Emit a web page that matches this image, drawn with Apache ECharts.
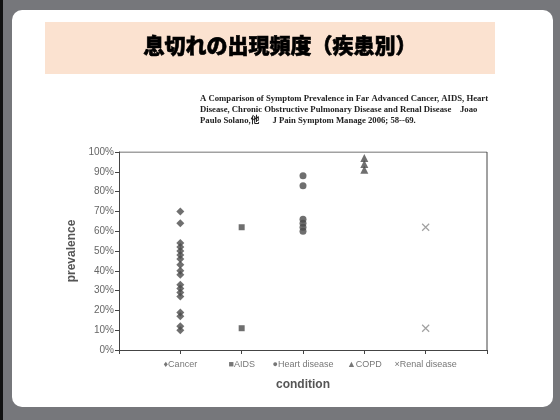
<!DOCTYPE html>
<html>
<head>
<meta charset="utf-8">
<script src="https://cdn.jsdelivr.net/npm/echarts@6/dist/echarts.min.js"></script>
<style>
  html, body { margin: 0; padding: 0; background: #76777b; }
  #chart { width: 560px; height: 420px; }
</style>
</head>
<body>
<div id="chart"></div>
<script>
// conditions on the x axis (positions 1..5)
const conditions = ['Cancer', 'AIDS', 'Heart disease', 'COPD', 'Renal disease']
const markerGlyphs = ['\u2666', '\u25A0', '\u25CF', '\u25B2', '\u00D7']
const yTicks = [0, 10, 20, 30, 40, 50, 60, 70, 80, 90, 100]

// prevalence (%)
const cancer = [70, 64, 54, 52, 50, 48, 46, 43, 40, 38, 33, 31, 29, 27, 19, 17, 12, 10]
const aids = [62, 11]
const heart = [88, 83, 66, 64, 62, 60]
const copd = [97, 94, 91]
const renal = [62, 11]

const title = '息切れの出現頻度（疾患別）'
const citation = [
  'A Comparison of Symptom Prevalence in Far Advanced Cancer, AIDS, Heart',
  'Disease, Chronic Obstructive Pulmonary Disease and Renal Disease    Joao',
  'Paulo Solano,他      J Pain Symptom Manage 2006; 58--69.'
]

const chart = echarts.init(document.getElementById('chart'))

const dark = '#4b4b4b'
const gray = '#8a8a8a'

function pts(idx, vals) {
  return vals.map((v) => [idx + 1, v])
}

const option = {
  animation: false,
  backgroundColor: '#76777b',
  graphic: [
    { type: 'rect', shape: { x: 0, y: 0, width: 3, height: 420 }, style: { fill: '#111' }, z: -10 },
    { type: 'rect', shape: { x: 12, y: 10, width: 541, height: 397, r: 10 }, style: { fill: '#fff' }, z: -10 },
    { type: 'rect', shape: { x: 45, y: 22, width: 450, height: 52 }, style: { fill: '#fbe2d0' }, z: -9 },
    {
      type: 'text', left: 'center', top: 34,
      style: { text: title, font: '900 21px "Noto Sans CJK JP"', fill: '#000', stroke: '#000', lineWidth: 0.6 }
    },
    {
      type: 'text', left: 200, top: 93,
      style: {
        text: citation.join('\n'),
        font: 'bold 8.7px "Liberation Serif", "Noto Sans CJK JP"',
        lineHeight: 11, fill: '#222'
      }
    }
  ],
  grid: { left: 119, right: 73, top: 152, bottom: 70 },
  xAxis: {
    type: 'value', min: 0, max: 6, interval: 1,
    name: 'condition', nameLocation: 'middle', nameGap: 29,
    nameTextStyle: { fontFamily: 'Liberation Sans', fontWeight: 'bold', fontSize: 12, color: '#555' },
    axisLine: { lineStyle: { color: '#444', width: 1 } },
    axisTick: { show: true, length: 4, inside: false, lineStyle: { color: '#444' } },
    axisLabel: {
      showMinLabel: true, showMaxLabel: true,
      margin: 10, fontSize: 9, color: '#777', fontFamily: 'Liberation Sans',
      formatter: (v) => (v >= 1 && v <= 5 ? markerGlyphs[v - 1] + conditions[v - 1] : '')
    },
    splitLine: { show: false }
  },
  yAxis: {
    type: 'value', min: 0, max: 100, interval: 10,
    name: 'prevalence', nameLocation: 'middle', nameGap: 33, nameRotate: 90,
    nameTextStyle: { fontFamily: 'Liberation Sans', fontWeight: 'bold', fontSize: 12, color: '#555' },
    axisLine: { show: true, lineStyle: { color: '#444' } },
    axisTick: { show: true, length: 4, lineStyle: { color: '#444' } },
    axisLabel: {
      margin: 5, fontSize: 10, color: '#666', fontFamily: 'Liberation Sans',
      formatter: (v) => (yTicks.includes(v) ? v + '%' : '')
    },
    splitLine: { show: false }
  },
  series: [
    { type: 'scatter', data: pts(0, cancer), symbol: 'diamond', symbolSize: 8, itemStyle: { color: dark } },
    { type: 'scatter', data: pts(1, aids), symbol: 'rect', symbolSize: 6, itemStyle: { color: dark } },
    { type: 'scatter', data: pts(2, heart), symbol: 'circle', symbolSize: 7, itemStyle: { color: dark } },
    { type: 'scatter', data: pts(3, copd), symbol: 'triangle', symbolSize: 8, itemStyle: { color: dark } },
    {
      type: 'scatter', data: pts(4, renal),
      symbol: 'path://M0,0 L10,10 M10,0 L0,10', symbolSize: 7,
      itemStyle: { color: 'none', borderColor: gray, borderWidth: 1.2 }
    },
    // box top and right edges
    {
      type: 'line', data: [[0, 100], [6, 100], [6, 0]], symbol: 'none', silent: true,
      lineStyle: { color: '#444', width: 1 }
    }
  ]
}

chart.setOption(option)
</script>
</body>
</html>
